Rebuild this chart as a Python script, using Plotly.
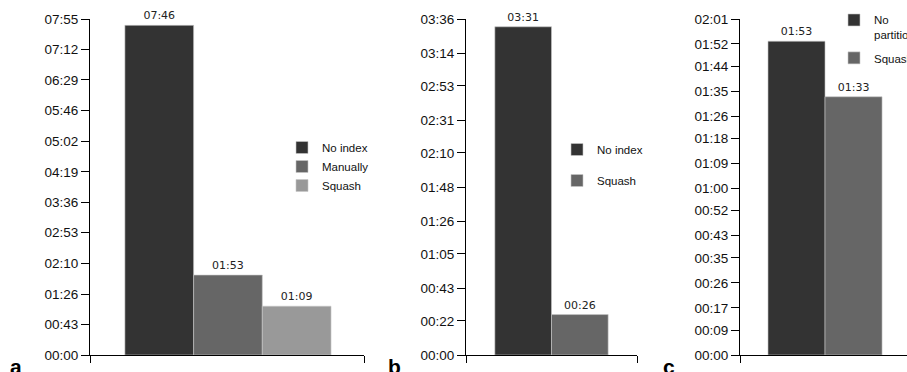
import plotly.graph_objects as go

# ---------------- data ----------------
a_series = ["No index", "Manually", "Squash"]
a_seconds = [466, 113, 69]
a_ticks = ["00:00", "00:43", "01:26", "02:10", "02:53", "03:36", "04:19",
           "05:02", "05:46", "06:29", "07:12", "07:55"]

b_series = ["No index", "Squash"]
b_seconds = [211, 26]
b_ticks = ["00:00", "00:22", "00:43", "01:05", "01:26", "01:48", "02:10",
           "02:31", "02:53", "03:14", "03:36"]

c_series = ["No<br>partition", "Squash"]
c_seconds = [113, 93]
c_ticks = ["00:00", "00:09", "00:17", "00:26", "00:35", "00:43", "00:52",
           "01:00", "01:09", "01:18", "01:26", "01:35", "01:44", "01:52", "02:01"]

a_colors = ["#333333", "#666666", "#999999"]
b_colors = ["#333333", "#666666"]
c_colors = ["#333333", "#666666"]


def to_sec(s):
    m, sec = s.split(":")
    return int(m) * 60 + int(sec)


def fmt(v):
    return "%02d:%02d" % (v // 60, v % 60)


W, H = 907, 372
fig = go.Figure()

panels = [
    ("x", "y", "legend", a_series, a_seconds, a_colors),
    ("x2", "y2", "legend2", b_series, b_seconds, b_colors),
    ("x3", "y3", "legend3", c_series, c_seconds, c_colors),
]
for xa, ya, lg, names, vals, cols in panels:
    for i, (n, v, c) in enumerate(zip(names, vals, cols)):
        fig.add_trace(go.Bar(
            x=[0], y=[v], name=n, xaxis=xa, yaxis=ya, legend=lg,
            legendgroup=xa + str(i),
            marker=dict(color=c, line=dict(color="#c8c8c8", width=0.6)),
            text=[fmt(v)], textposition="outside", cliponaxis=False,
            textfont=dict(family="DejaVu Sans", size=11, color="#222222"),
            hoverinfo="skip",
        ))

# pixel layout helpers
def px_x(p):
    return p / W

x_dom = [(90, 364), (466, 637), (740, 907)]
x_rng = [(-0.502, 0.495), (-0.566, 0.566), (-0.559, 0.539)]
y_ticks = [a_ticks, b_ticks, c_ticks]

layout = dict(
    width=W, height=H,
    margin=dict(l=0, r=0, t=19, b=17, autoexpand=False),
    paper_bgcolor="white", plot_bgcolor="white",
    barmode="group", bargap=0.25, bargroupgap=0,
    font=dict(family="Liberation Sans, Arial", size=13, color="#111111"),
)
for k in range(3):
    sfx = "" if k == 0 else str(k + 1)
    lo, hi = x_rng[k]
    layout["xaxis" + sfx] = dict(
        domain=[px_x(x_dom[k][0]), px_x(x_dom[k][1])],
        anchor="y" + sfx, range=[lo, hi], showgrid=False, zeroline=False,
        showline=True, linecolor="black", linewidth=1,
        tickmode="array", tickvals=[lo, hi], ticks="outside", ticklen=7,
        tickcolor="black", showticklabels=False, fixedrange=True,
    )
    tv = [to_sec(t) for t in y_ticks[k]]
    layout["yaxis" + sfx] = dict(
        domain=[0, 1], anchor="x" + sfx, range=[0, tv[-1]],
        showgrid=False, zeroline=False, showline=True, linecolor="black",
        linewidth=1, tickmode="array", tickvals=tv, ticktext=y_ticks[k],
        ticks="outside", ticklen=8, tickcolor="black",
        tickfont=dict(size=13.5, color="#111111"), fixedrange=True,
    )

def py(p):
    return (355 - p) / 336

leg_common = dict(bgcolor="rgba(0,0,0,0)", borderwidth=0,
                  font=dict(family="Liberation Sans, Arial", size=11.5, color="#111111"),
                  xanchor="left", yanchor="top", traceorder="grouped")
layout["legend"] = dict(x=px_x(282), y=py(133), tracegroupgap=0, **leg_common)
layout["legend2"] = dict(x=px_x(557), y=py(135), tracegroupgap=12, **leg_common)
layout["legend3"] = dict(x=px_x(834), y=py(6), tracegroupgap=5, valign="top", **leg_common)
layout["showlegend"] = True

letters = [("a", 8), ("b", 386), ("c", 661)]
annots = []
for t, xp in letters:
    annots.append(dict(text="<b>%s</b>" % t, x=px_x(xp), y=py(353), xref="paper",
                       yref="paper", xanchor="left", yanchor="top", showarrow=False,
                       font=dict(family="Liberation Sans, Arial", size=21, color="black")))
layout["annotations"] = annots

fig.update_layout(**layout)
fig.write_html("out.html", config={"displayModeBar": False},
               post_script="document.body.style.margin='0';"
                           "document.body.style.overflow='hidden';")
